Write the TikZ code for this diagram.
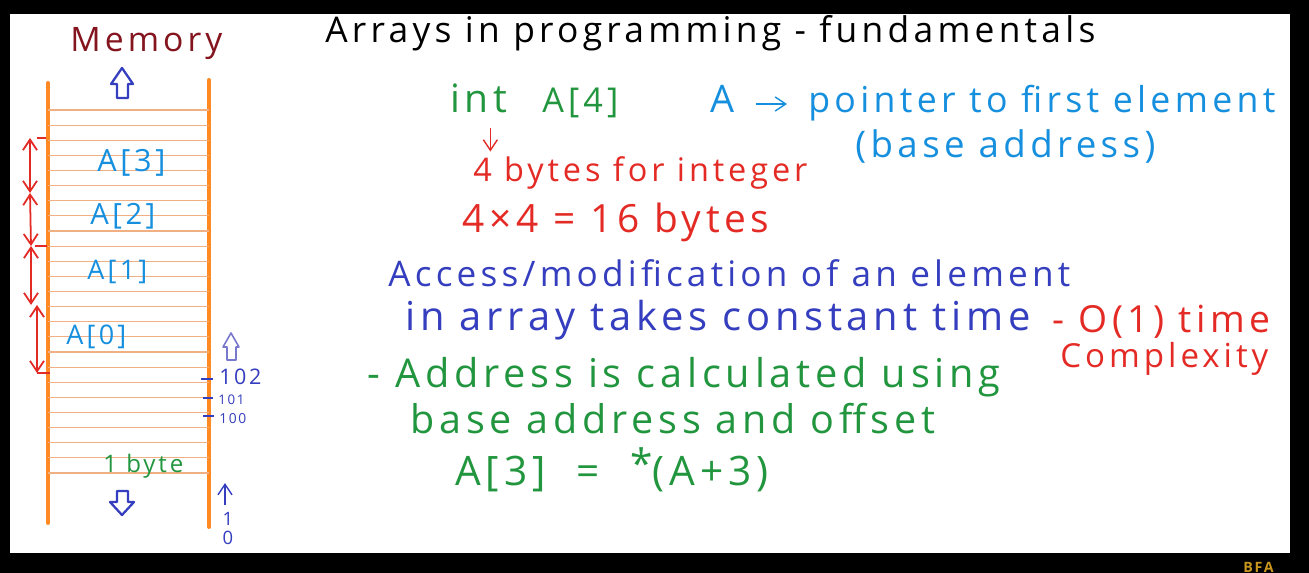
\documentclass[tikz,border=0pt]{standalone}
\usepackage{fontspec}
\setmainfont{Open Sans}[LetterSpace=12]
\usepackage{graphicx}
\usetikzlibrary{positioning,calc,arrows.meta}
\definecolor{inkred}{RGB}{228,42,36}
\definecolor{inkgreen}{RGB}{34,150,62}
\definecolor{inkcyan}{RGB}{22,144,222}
\definecolor{inkblue}{RGB}{52,62,190}
\definecolor{inkpale}{RGB}{120,120,205}
\definecolor{inkmaroon}{RGB}{132,20,30}
\definecolor{memorange}{RGB}{255,138,36}
\definecolor{cellorange}{RGB}{240,176,132}
\definecolor{logogold}{RGB}{200,150,30}
\newlength\pxu
\setlength\pxu{0.02cm}
\newcommand{\fitw}[2]{\resizebox{#1\pxu}{!}{#2}}

\begin{document}
\begin{tikzpicture}[x=0.02cm, y=-0.02cm,
    >={Straight Barb[length=6pt,width=8pt]},
    hand/.style={inner sep=0pt, anchor=base west},
    memline/.style={memorange, line width=2.3pt, line cap=round},
    cellline/.style={cellorange, line width=0.6pt},
    dimarr/.style={<->, inkred, line width=1pt},
    blockarr/.style={inkblue, line width=1.3pt, line join=round}]
        \useasboundingbox (0,0) rectangle (1309,573);
        \fill[black] (0,0) rectangle (1309,573);
        \fill[white] (10,14) rectangle (1290,553);
        \node[hand, text=logogold, anchor=north west] (logo) at (1243,562) {\fitw{32}{\textbf{BFA}}};

        % title
        \node[hand] (title) at (325,43) {\fitw{770}{Arrays in programming - fundamentals}};

        % memory column
        \node[hand, text=inkmaroon] (memory) at (70,52) {\fitw{152}{Memory}};
        \draw[memline] (48,83) -- (48,523);
        \draw[memline] (209,80) -- (209,527);
        \foreach \i in {0,...,24}
            \draw[cellline] (48,{110+15.125*\i}) -- (209,{110+15.125*\i});
        \draw[blockarr] (122,68) -- (133,84) -- (128,84) -- (128,98) -- (117,98) -- (117,84) -- (111,84) -- cycle;
        \draw[blockarr] (122,515) -- (134,502) -- (128,502) -- (128,491) -- (117,491) -- (117,502) -- (110,502) -- cycle;

        \node[hand, text=inkcyan] (a3) at (97,172) {\fitw{68}{A[3]}};
        \node[hand, text=inkcyan] (a2) at (90,225) {\fitw{65}{A[2]}};
        \node[hand, text=inkcyan] (a1) at (87,280) {\fitw{60}{A[1]}};
        \node[hand, text=inkcyan] (a0) at (66,345) {\fitw{60}{A[0]}};
        \node[hand, text=inkgreen] (onebyte) at (103,473) {\fitw{80}{1 byte}};

        % size of each element
        \coordinate (d0) at (37,373);
        \coordinate (d1) at (34,305);
        \coordinate (d2) at (31,246);
        \coordinate (d3) at (30,193);
        \coordinate (d4) at (30,138);
        \draw[dimarr] (d3) -- (d4);
        \draw[dimarr] (d2) -- (d3);
        \draw[dimarr] (d1 -| d2) -- (d2);
        \draw[dimarr] (d0) -- (d0 |- d1);
        \draw[inkred, thick] (37,138) -- (46,138);
        \draw[inkred, thick] (35,246) -- (47,246);
        \draw[inkred, thick] (37,373) -- (50,373);

        % addresses
        \draw[inkpale, line width=0.9pt, line join=round] (231,333) -- (239,347) -- (236,347) -- (236,360) -- (227,360) -- (227,347) -- (223,347) -- cycle;
        \node[hand, text=inkblue] (ad102) at (219,385) {\fitw{42}{102}};
        \node[hand, text=inkblue] (ad101) at (218,405) {\fitw{26}{101}};
        \node[hand, text=inkblue] (ad100) at (219,424) {\fitw{27}{100}};
        \draw[inkblue, thick] (201,379) -- (213,379);
        \draw[inkblue, thick] (203,398) -- (213,398);
        \draw[inkblue, thick] (203,416) -- (214,416);
        \node[text=inkblue, inner sep=0pt, font=\fontsize{10.5}{12}\selectfont] (ad1) at (228,519) {1};
        \node[text=inkblue, inner sep=0pt, font=\fontsize{10.5}{12}\selectfont] (ad0) at (228,538) {0};
        \draw[->, inkblue, thick] ([xshift=-0.06cm, yshift=4pt]ad1.north) -- ++(0,-22);

        % declaration
        \node[hand, text=inkgreen] (int) at (450,113) {\fitw{57}{int}};
        \node[hand, text=inkgreen] (arr) at (542,113) {\fitw{76}{A[4]}};
        \node[hand, text=inkred] (bytes) at (473,182) {\fitw{334}{4 bytes for integer}};
        \node[hand, text=inkred] (total) at (462,233) {\fitw{307}{4×4 = 16 bytes}};
        \draw[->, inkred, thick, shorten <=8pt, shorten >=3pt] ([xshift=0.23cm]int.south) -- ([xshift=0.23cm]int.south |- bytes.north);

        % base pointer
        \node[hand, text=inkcyan] (ptra) at (710,113) {\fitw{24}{A}};
        \node[hand, text=inkcyan] (ptr) at (808,113) {\fitw{467}{pointer to first element}};
        \node[hand, text=inkcyan] (base) at (855,158) {\fitw{300}{(base address)}};
        \draw[->, inkcyan, thick, shorten <=12pt, shorten >=12pt] (ptra.east |- 0,104) -- (ptr.west |- 0,104);

        % constant time access
        \node[hand, text=inkblue] (access) at (388,287) {\fitw{682}{Access/modification of an element}};
        \node[hand, text=inkblue] (inarr) at (405,331) {\fitw{625}{in array takes constant time}};
        \node[hand, text=inkred] (order) at (1052,333) {\fitw{218}{- O(1) time}};
        \node[hand, text=inkred] (cplx) at (1060,368) {\fitw{208}{Complexity}};

        % address calculation
        \node[hand, text=inkgreen] (addr) at (367,388) {\fitw{633}{- Address is calculated using}};
        \node[hand, text=inkgreen] (offs) at (410,434) {\fitw{525}{base address and offset}};
        \node[hand, text=inkgreen] (formula) at (455,486) {\fitw{313}{A[3] \ = \ \raisebox{0.35ex}{*}(A+3)}};
\end{tikzpicture}
\end{document}
